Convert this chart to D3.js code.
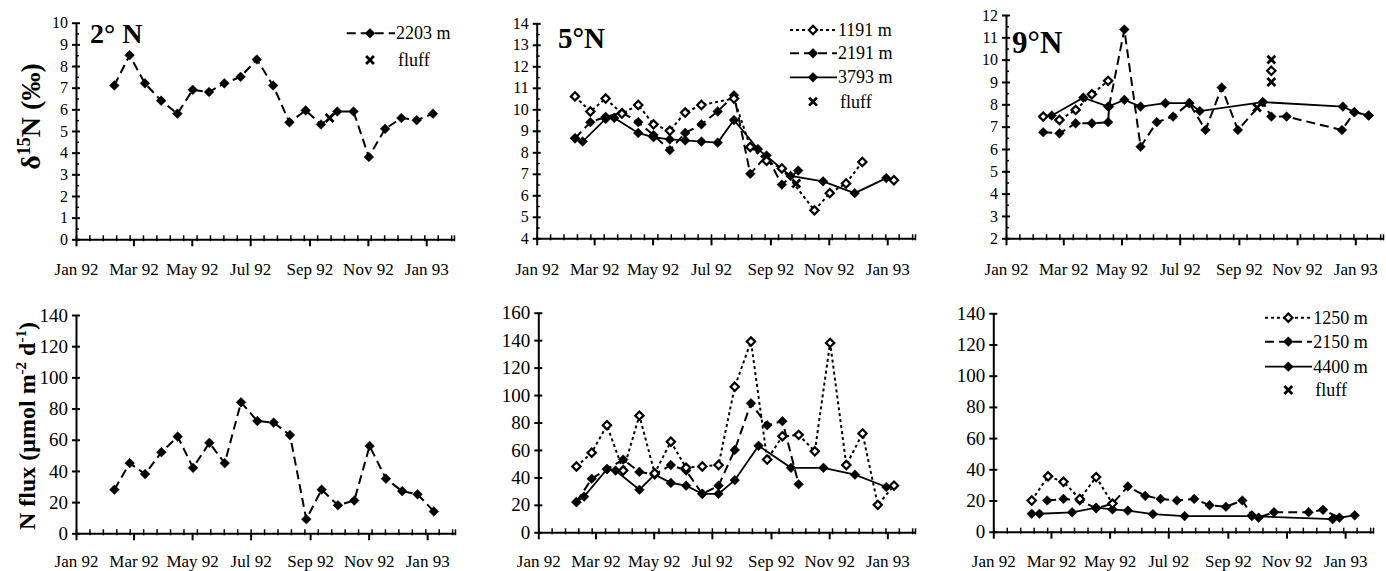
<!DOCTYPE html>
<html>
<head>
<meta charset="utf-8">
<script src="https://cdn.jsdelivr.net/npm/d3@7"></script>
<style>
  body { margin: 0; background: #fff; }
  svg text { font-family: "Liberation Serif", "Times New Roman", Times, serif !important; fill: #000; }
</style>
</head>
<body>
<script>
"use strict";

(function() {

// ---- data ----

// 2 deg N, 2203 m trap (same cups for d15N and flux)
let dates2N = ["1992-02-10","1992-02-26","1992-03-13","1992-03-30","1992-04-16","1992-05-02","1992-05-19",
  "1992-06-04","1992-06-21","1992-07-08","1992-07-25","1992-08-11","1992-08-28","1992-09-13","1992-09-30",
  "1992-10-17","1992-11-02","1992-11-19","1992-12-06","1992-12-22","1993-01-08"];
let d15N_2N = [7.1, 8.5, 7.2, 6.4, 5.8, 6.9, 6.8, 7.2, 7.5, 8.3, 7.1, 5.4, 5.95, 5.3, 5.9, 5.9, 3.8, 5.1, 5.6, 5.5, 5.8];
let flux_2N = [28, 45, 38, 52, 62, 42, 58, 45, 84, 72, 71, 63, 9, 28, 18, 21, 56, 35, 27, 25, 14];
let fluffDates2N = ["1992-09-22"];
let fluffD15N_2N = [5.6];

// 5 deg N
let dates5N_1191d = ["1992-02-10","1992-02-26","1992-03-13","1992-03-30","1992-04-16","1992-05-02","1992-05-19",
  "1992-06-04","1992-06-21","1992-07-25","1992-08-11","1992-08-28","1992-09-13","1992-10-17","1992-11-02",
  "1992-11-19","1992-12-06","1992-12-22","1993-01-08"];
let d15N_5N_1191 = [10.6, 9.9, 10.5, 9.8, 10.2, 9.3, 9.0, 9.85, 10.2, 10.5, 8.25, 7.6, 7.25, 5.3, 6.1, 6.55, 7.55, null, 6.7];
let dates5N_1191f = dates2N;
let flux_5N_1191 = [48, 58, 78, 45, 85, 43, 66, 47, 48, 49, 106, 139, 53, 70, 71, 59, 138, 49, 72, 20, 34];
let dates5N_2191 = dates2N.slice(0, 15);
let d15N_5N_2191 = [8.65, 9.4, 9.65, 9.85, 9.4, 8.8, 8.1, 8.9, 9.3, 9.9, 10.65, 7.0, 7.85, 6.5, 7.15];
let flux_5N_2191 = [22, 39, 46, 53, 44, 42, 49, 45, 28, 34, 60, 94, 78, 81, 35];
let dates5N_3793 = ["1992-02-10","1992-02-18","1992-03-13","1992-03-22","1992-04-16","1992-05-02","1992-05-19",
  "1992-06-04","1992-06-21","1992-07-08","1992-07-25","1992-08-19","1992-09-22","1992-10-26","1992-11-28","1992-12-31"];
let d15N_5N_3793 = [8.65, 8.5, 9.55, 9.6, 8.9, 8.7, 8.6, 8.55, 8.5, 8.45, 9.5, 8.15, 6.9, 6.65, 6.1, 6.8];
let flux_5N_3793 = [22, 26, 46, 45, 31, 42, 36, 34, 28, 28, 38, 63, 47, 47, 42, 33];
let fluffDates5N = ["1992-09-28"];
let fluffD15N_5N = [6.55];

// 9 deg N
let dates9N_1250d = ["1992-02-09","1992-02-26","1992-03-14","1992-03-31","1992-04-17","1992-05-04","1992-10-05"];
let d15N_9N_1250 = [7.45, 7.3, 7.75, 8.45, 9.05, null, 9.5];
let dates9N_2150d = ["1992-02-09","1992-02-26","1992-03-14","1992-03-31","1992-04-17","1992-04-18","1992-05-04",
  "1992-05-21","1992-06-07","1992-06-24","1992-07-11","1992-07-28","1992-08-14","1992-08-31","1992-09-26",
  "1992-10-05","1992-10-21","1992-12-18","1992-12-31","1993-01-15"];
let d15N_9N_2150 = [6.75, 6.7, 7.15, 7.15, 7.2, 7.9, 11.35, 6.1, 7.2, 7.45, 8.05, 6.85, 8.75, 6.85, 8.1,
  7.45, 7.45, 6.85, 7.65, 7.5];
let dates9N_4400d = ["1992-02-18","1992-03-22","1992-04-17","1992-05-04","1992-05-21","1992-06-16","1992-07-11",
  "1992-07-22","1992-09-26","1992-12-19","1992-12-31","1993-01-15"];
let d15N_9N_4400 = [7.5, 8.3, 7.9, 8.2, 7.9, 8.05, 8.05, 7.7, 8.1, 7.9, 7.65, 7.5];
let fluffDates9N = ["1992-09-20","1992-10-05","1992-10-05"];
let fluffD15N_9N = [7.85, 10.0, 9.0];

let dates9N_1250f = ["1992-02-10","1992-02-27","1992-03-14","1992-03-31","1992-04-17","1992-05-04"];
let flux_9N_1250 = [20, 35.5, 32, 21, 35, 18];
let dates9N_2150f = ["1992-02-26","1992-03-14","1992-03-31","1992-04-17","1992-05-04","1992-05-20","1992-06-07",
  "1992-06-23","1992-07-10","1992-07-28","1992-08-13","1992-08-30","1992-09-16","1992-09-26","1992-10-03",
  "1992-10-19","1992-11-24","1992-12-09","1992-12-26","1993-01-11"];
let flux_9N_2150 = [20, 21, 20, 15, 18, 29, 23, 21, 20, 21, 17, 16, 20, 10.5, 9, 12.5, 12.5, 14, 9, 10.5];
let dates9N_4400f = ["1992-02-10","1992-02-18","1992-03-23","1992-04-17","1992-05-04","1992-05-20","1992-06-15",
  "1992-07-18","1992-09-26","1992-12-19"];
let flux_9N_4400 = [11.5, 11.5, 12.4, 15.4, 14.3, 13.5, 11.3, 10, 10, 8];

// ---- drawing ----

let width = 1386;
let height = 571;
let FONT = '"Liberation Serif", "Times New Roman", Times, serif';
let parse = d3.timeParse("%Y-%m-%d");
let xStart = new Date(1992, 0, 1);
let xEnd = new Date(1993, 0, 30);
let diamond = d3.symbolDiamond2 || d3.symbolDiamond;
let cross = d3.symbolTimes || d3.symbolCross;

// line styles per trap depth
let shallow = { dash: "3,3", width: 2, open: true };
let mid = { dash: "9,5", width: 2, open: false };
let deep = { dash: null, width: 1.8, open: false };

function ser(style, dates, vals) { return { style: style, dates: dates, vals: vals }; }

let panels = [
  { x: [76, 454], y: [239.3, 22.7], dom: [0, 10], step: 1, minor: 0.5, yFont: 16, labelY: 275,
    series: [ser(mid, dates2N, d15N_2N)], fluff: [fluffDates2N, fluffD15N_2N],
    title: { text: "2° N", x: 90, y: 43, size: 28 },
    legend: { lx: [346.7, 395], mx: 370, tx: 396, rows: [[33.3, mid, "2203 m"], [60, null, "fluff"]] } },
  { x: [536.7, 915], y: [238.3, 23.3], dom: [4, 14], step: 1, minor: 0.5, yFont: 16, labelY: 275,
    series: [ser(deep, dates5N_3793, d15N_5N_3793), ser(mid, dates5N_2191, d15N_5N_2191),
             ser(shallow, dates5N_1191d, d15N_5N_1191)], fluff: [fluffDates5N, fluffD15N_5N],
    title: { text: "5°N", x: 558, y: 48, size: 29 },
    legend: { lx: [790, 837], mx: 813, tx: 838, rows: [[30, shallow, "1191 m"], [53.3, mid, "2191 m"],
      [77.3, deep, "3793 m"], [101.7, null, "fluff"]] } },
  { x: [1006, 1383], y: [238.3, 15], dom: [2, 12], step: 1, minor: 0.5, yFont: 16, labelY: 275,
    series: [ser(deep, dates9N_4400d, d15N_9N_4400), ser(mid, dates9N_2150d, d15N_9N_2150),
             ser(shallow, dates9N_1250d, d15N_9N_1250)], fluff: [fluffDates9N, fluffD15N_9N],
    title: { text: "9°N", x: 1012, y: 53, size: 31 } },
  { x: [76, 455], y: [533.3, 315], dom: [0, 140], step: 20, minor: 0, yFont: 19, labelY: 567,
    series: [ser(mid, dates2N, flux_2N)] },
  { x: [538.3, 915], y: [532.3, 312.7], dom: [0, 160], step: 20, minor: 0, yFont: 19, labelY: 567,
    series: [ser(deep, dates5N_3793, flux_5N_3793), ser(mid, dates5N_2191, flux_5N_2191),
             ser(shallow, dates5N_1191f, flux_5N_1191)] },
  { x: [993.3, 1373], y: [531.7, 313.3], dom: [0, 140], step: 20, minor: 0, yFont: 19, labelY: 567,
    series: [ser(deep, dates9N_4400f, flux_9N_4400), ser(mid, dates9N_2150f, flux_9N_2150),
             ser(shallow, dates9N_1250f, flux_9N_1250)],
    legend: { lx: [1265, 1312], mx: 1288.3, tx: 1313.3, rows: [[317.7, shallow, "1250 m"], [341.7, mid, "2150 m"],
      [366.7, deep, "4400 m"], [390, null, "fluff"]] } }
];

let svg = d3.select("body")
    .append("svg")
    .attr("width", width)
    .attr("height", height)
    .attr("font-family", FONT);

function marker(g, style, px, py) {
    g.append("path")
        .attr("transform", "translate(" + px + "," + py + ")")
        .attr("d", d3.symbol().type(diamond).size(style.open ? 44 : 60)())
        .attr("fill", style.open ? "#fff" : "#000")
        .attr("stroke", "#000")
        .attr("stroke-width", style.open ? 2.2 : 0.5);
}

function fluffMark(g, px, py) {
    g.append("path")
        .attr("transform", "translate(" + px + "," + py + ")" + (d3.symbolTimes ? "" : " rotate(45)"))
        .attr("d", d3.symbol().type(cross).size(42)())
        .attr("fill", "none")
        .attr("stroke", "#000")
        .attr("stroke-width", 2.8);
}

function drawPanel(p) {
    let g = svg.append("g");
    let x = d3.scaleTime().domain([xStart, xEnd]).range(p.x);
    let y = d3.scaleLinear().domain(p.dom).range(p.y);

    // minor x ticks every two weeks, pointing up
    let minorX = d3.timeDay.range(xStart, xEnd).filter(function(d, i) { return i % 14 === 0; });
    minorX.push(xEnd);
    g.append("g")
        .attr("transform", "translate(0," + p.y[0] + ")")
        .call(d3.axisBottom(x).tickValues(minorX).tickSize(-4).tickFormat(""))
        .call(function(a) { a.select(".domain").remove(); })
        .selectAll("line").attr("y2", -4).attr("y1", 2).attr("stroke-width", 1.5);

    let xa = g.append("g")
        .attr("transform", "translate(0," + p.y[0] + ")")
        .call(d3.axisBottom(x).ticks(d3.timeMonth.every(2)).tickFormat(d3.timeFormat("%b %y"))
            .tickSizeInner(7).tickSizeOuter(0))
        .attr("font-family", FONT);
    xa.select(".domain").attr("stroke-width", 2);
    xa.selectAll(".tick line").attr("stroke-width", 2);
    xa.selectAll(".tick text")
        .attr("y", p.labelY - p.y[0])
        .attr("dy", 0)
        .style("font-size", "17px");

    if (p.minor) {
        g.append("g")
            .attr("transform", "translate(" + p.x[0] + ",0)")
            .call(d3.axisLeft(y).tickValues(d3.range(p.dom[0] + p.minor, p.dom[1], 1)).tickSize(-3).tickFormat(""))
            .call(function(a) { a.select(".domain").remove(); })
            .selectAll("line").attr("stroke-width", 1.5);
    }
    let ya = g.append("g")
        .attr("transform", "translate(" + p.x[0] + ",0)")
        .call(d3.axisLeft(y).tickValues(d3.range(p.dom[0], p.dom[1] + 0.001, p.step))
            .tickSize(4).tickPadding(4).tickSizeOuter(0))
        .attr("font-family", FONT);
    ya.select(".domain").attr("stroke-width", 2);
    ya.selectAll(".tick line").attr("x1", 4).attr("stroke-width", 2);
    ya.selectAll(".tick text").style("font-size", p.yFont + "px");

    // lines first, then markers on top
    p.series.forEach(function(s) {
        let pts = s.dates.map(function(d, i) { return { t: parse(d), v: s.vals[i] }; });
        let line = d3.line()
            .defined(function(d) { return d.v != null; })
            .x(function(d) { return x(d.t); })
            .y(function(d) { return y(d.v); });
        g.append("path")
            .datum(pts)
            .attr("d", line)
            .attr("fill", "none")
            .attr("stroke", "#000")
            .attr("stroke-width", s.style.width)
            .attr("stroke-dasharray", s.style.dash);
        s.pts = pts;
    });
    p.series.forEach(function(s) {
        s.pts.forEach(function(d) {
            if (d.v != null) marker(g, s.style, x(d.t), y(d.v));
        });
    });

    if (p.fluff) {
        p.fluff[0].forEach(function(d, i) { fluffMark(g, x(parse(d)), y(p.fluff[1][i])); });
    }

    if (p.title) {
        g.append("text")
            .attr("x", p.title.x)
            .attr("y", p.title.y)
            .style("font-size", p.title.size + "px")
            .style("font-weight", "bold")
            .text(p.title.text);
    }

    if (p.legend) {
        let L = p.legend;
        L.rows.forEach(function(r) {
            if (r[1]) {
                g.append("line")
                    .attr("x1", L.lx[0]).attr("x2", L.lx[1])
                    .attr("y1", r[0]).attr("y2", r[0])
                    .attr("stroke", "#000")
                    .attr("stroke-width", r[1].width)
                    .attr("stroke-dasharray", r[1].dash);
                marker(g, r[1], L.mx, r[0]);
                g.append("text").attr("x", L.tx).attr("y", r[0] + 6)
                    .style("font-size", "18px").text(r[2]);
            } else {
                fluffMark(g, L.mx, r[0]);
                g.append("text").attr("x", L.tx + 2).attr("y", r[0] + 6)
                    .style("font-size", "18px").text(r[2]);
            }
        });
    }
}

panels.forEach(drawPanel);

// y-axis titles
let yl1 = svg.append("text")
    .attr("transform", "translate(40,116.5) rotate(-90)")
    .attr("text-anchor", "middle")
    .style("font-size", "28px")
    .style("font-weight", "bold");
yl1.append("tspan").text("δ");
yl1.append("tspan").attr("dy", -10).style("font-size", "18px").text("15");
yl1.append("tspan").attr("dy", 10).text("N (‰)");

let yl2 = svg.append("text")
    .attr("transform", "translate(35,426) rotate(-90)")
    .attr("text-anchor", "middle")
    .style("font-size", "24px")
    .style("font-weight", "bold");
yl2.append("tspan").text("N flux (μmol m");
yl2.append("tspan").attr("dy", -9).style("font-size", "15px").text("-2");
yl2.append("tspan").attr("dy", 9).text(" d");
yl2.append("tspan").attr("dy", -9).style("font-size", "15px").text("-1");
yl2.append("tspan").attr("dy", 9).text(")");

svg.selectAll("text").style("font-family", FONT);

})();
</script>
</body>
</html>
